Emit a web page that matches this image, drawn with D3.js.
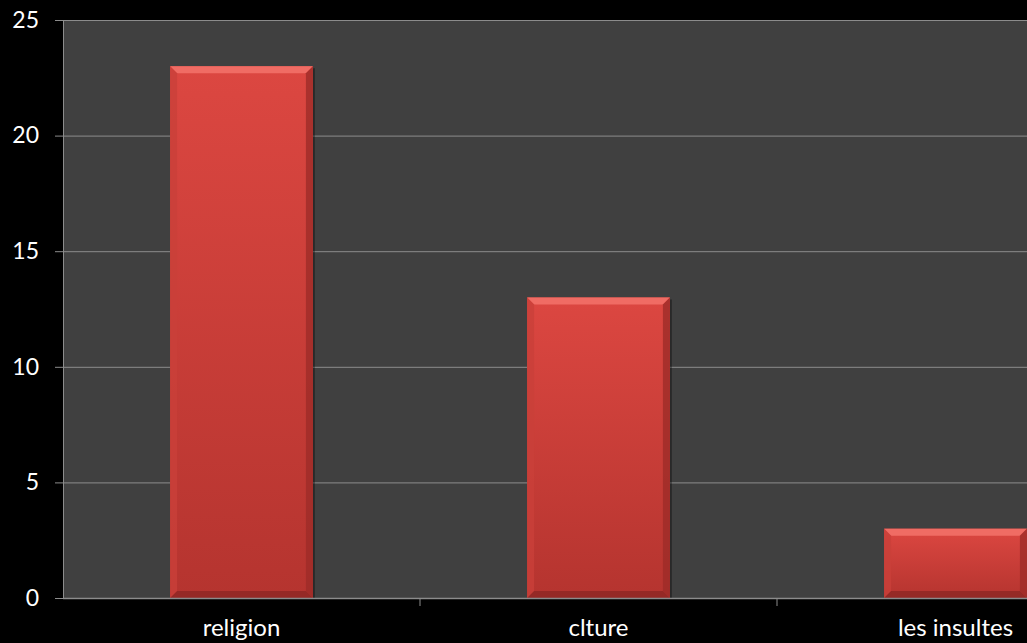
<!DOCTYPE html>
<html>
<head>
<meta charset="utf-8">
<script src="https://cdn.jsdelivr.net/npm/d3@7"></script>
<style>
  html, body { margin: 0; padding: 0; background: #000; overflow: hidden; }
  text { font-family: Lato, "Open Sans", sans-serif; fill: #fff; }
</style>
</head>
<body>
<div id="container"></div>
<script>
// chart values
const categories = ["religion", "clture", "les insultes"];
const values = [23, 13, 3];
const yTicks = [0, 5, 10, 15, 20, 25];

const width = 1027;
const height = 643;
const margin = { top: 20, left: 63, bottom: 45 };
const bandW = 357; // the last band runs past the right edge, as in the original
const plotH = height - margin.top - margin.bottom;

const svg = d3.select("#container")
  .append("svg")
  .attr("width", width)
  .attr("height", height)
  .style("display", "block");

const defs = svg.append("defs");
const grad = defs.append("linearGradient")
  .attr("id", "barGrad")
  .attr("x1", 0).attr("y1", 0).attr("x2", 0).attr("y2", 1);
grad.append("stop").attr("offset", "0%").attr("stop-color", "#dc4741");
grad.append("stop").attr("offset", "100%").attr("stop-color", "#b5342f");

const g = svg.append("g")
  .attr("transform", `translate(${margin.left}, ${margin.top})`);

const xScale = d3.scaleBand()
  .domain(categories)
  .range([0, bandW * categories.length])
  .paddingInner(0.6)
  .paddingOuter(0.3);

const yScale = d3.scaleLinear().domain([0, 25]).range([plotH, 0]);

// plot area
g.append("rect")
  .attr("width", width - margin.left)
  .attr("height", plotH)
  .attr("fill", "#404040");

// grid lines
g.append("g")
  .selectAll("line")
  .data(yTicks.filter(d => d > 0))
  .enter()
  .append("line")
  .attr("x1", 0).attr("x2", width)
  .attr("y1", d => yScale(d) + 0.5).attr("y2", d => yScale(d) + 0.5)
  .attr("stroke", "#8c8c8c");

// y axis
const yAxis = g.append("g")
  .call(d3.axisLeft(yScale).tickValues(yTicks).tickSize(8).tickPadding(16));
yAxis.selectAll("line, path").attr("stroke", "#8c8c8c");
yAxis.selectAll("text").style("font-size", "23px").attr("fill", "#fff");

// bars with bevel
const bev = 7;
const bars = g.selectAll(".bar")
  .data(values)
  .enter()
  .append("g")
  .attr("class", "bar")
  .attr("transform", (d, i) => `translate(${xScale(categories[i])}, ${yScale(d)})`);

bars.append("rect")
  .attr("x", 2).attr("y", 2)
  .attr("width", xScale.bandwidth())
  .attr("height", d => plotH - yScale(d) - 2)
  .attr("fill", "#000").attr("opacity", 0.35);

bars.append("rect")
  .attr("width", xScale.bandwidth())
  .attr("height", d => plotH - yScale(d))
  .attr("fill", "url(#barGrad)");

const w = xScale.bandwidth();
bars.append("polygon")
  .attr("points", `0,0 ${w},0 ${w - bev},${bev} ${bev},${bev}`)
  .attr("fill", "#f06c64");
bars.append("polygon")
  .attr("points", d => {
    const h = plotH - yScale(d);
    return `0,0 ${bev},${bev} ${bev},${h - bev} 0,${h}`;
  })
  .attr("fill", "#c9403a").attr("opacity", 0.8);
bars.append("polygon")
  .attr("points", d => {
    const h = plotH - yScale(d);
    return `${w},0 ${w},${h} ${w - bev},${h - bev} ${w - bev},${bev}`;
  })
  .attr("fill", "#9e2c28").attr("opacity", 0.8);
bars.append("polygon")
  .attr("points", d => {
    const h = plotH - yScale(d);
    return `0,${h} ${w},${h} ${w - bev},${h - bev} ${bev},${h - bev}`;
  })
  .attr("fill", "#8f2824").attr("opacity", 0.85);

// x axis
const xAxis = g.append("g")
  .attr("transform", `translate(0, ${plotH})`);
xAxis.append("line")
  .attr("x1", 0).attr("x2", width)
  .attr("y1", 0.5).attr("y2", 0.5)
  .attr("stroke", "#8c8c8c").attr("stroke-width", 1.5);
xAxis.selectAll(".tick")
  .data(d3.range(1, categories.length))
  .enter()
  .append("line")
  .attr("x1", d => d * bandW).attr("x2", d => d * bandW)
  .attr("y1", 0).attr("y2", 8)
  .attr("stroke", "#8c8c8c");
xAxis.selectAll(".label")
  .data(categories)
  .enter()
  .append("text")
  .attr("x", d => xScale(d) + xScale.bandwidth() / 2)
  .attr("y", 38)
  .attr("text-anchor", "middle")
  .style("font-size", "24px")
  .text(d => d);
</script>
</body>
</html>
